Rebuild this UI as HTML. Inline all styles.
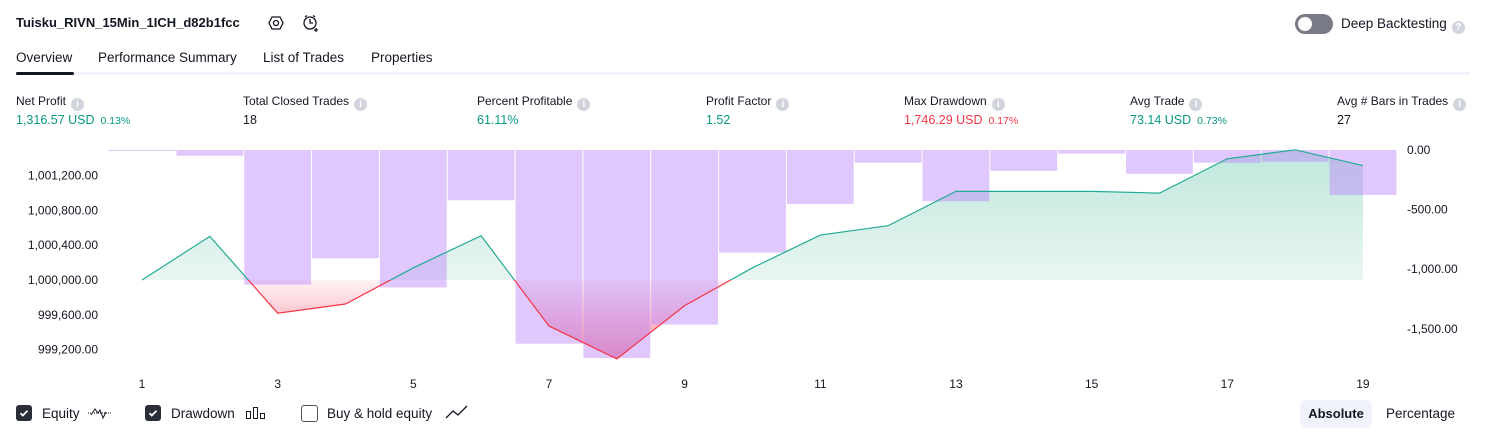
<!DOCTYPE html>
<html><head><meta charset="utf-8">
<style>
body{margin:0;width:1486px;height:438px;background:#fff;font-family:"Liberation Sans",sans-serif;color:#131722;position:relative;overflow:hidden}
.a{position:absolute;white-space:nowrap}
.t{font-size:13.5px}
.lbl{font-size:12px;top:94px}
.val{font-size:12.5px;top:113px}
.g{color:#089981}.r{color:#f23645}
.pct{font-size:10.5px;margin-left:6px}
.info{display:inline-block;width:13px;height:13px;border-radius:50%;background:#d1d4dc;color:#fff;font-size:10px;text-align:center;line-height:13px;margin-left:5px;vertical-align:-2px;font-weight:bold}
.cb{position:absolute;top:405px;width:16px;height:16px;border-radius:3px}
.cb.on{background:#2a2e39}
.cb.off{border:1px solid #50535e;width:15px;height:15px;background:#fff}
</style></head><body>
<div class="a t" style="left:16px;top:15px;font-weight:bold;font-size:13px">Tuisku_RIVN_15Min_1ICH_d82b1fcc</div>
<svg class="a" style="left:268px;top:15px" width="16" height="16"><polygon points="4,2 12,2 15,8 12,14 4,14 1,8" fill="none" stroke="#131722" stroke-width="1.3"/><circle cx="8" cy="8" r="2.5" fill="none" stroke="#131722" stroke-width="1.3"/></svg>
<svg class="a" style="left:302px;top:14px" width="18" height="18"><circle cx="8" cy="9" r="6" fill="none" stroke="#131722" stroke-width="1.3"/><path d="M8 5v4h3M3 3l2-1.5M13 3l-2-1.5M14 14v4M12 16h4" stroke="#131722" stroke-width="1.3" fill="none"/></svg>
<div class="a" style="left:1295px;top:14px;width:38px;height:20px;border-radius:10px;background:#787b86"><div style="position:absolute;left:3px;top:3px;width:14px;height:14px;border-radius:50%;background:#fff"></div></div>
<div class="a t" style="left:1341px;top:16px">Deep Backtesting<span class="info">?</span></div>
<div class="a t" style="left:16px;top:50px">Overview</div>
<div class="a t" style="left:98px;top:50px">Performance Summary</div>
<div class="a t" style="left:263px;top:50px">List of Trades</div>
<div class="a t" style="left:371px;top:50px">Properties</div>
<div class="a" style="left:16px;top:72px;width:1454px;height:3px;background:#f0f3fa"></div>
<div class="a" style="left:16px;top:72px;width:58px;height:3px;border-radius:2px;background:#131722"></div>

<div class="a lbl" style="left:16px">Net Profit<span class="info">i</span></div>
<div class="a val g" style="left:16px">1,316.57 USD<span class="pct">0.13%</span></div>
<div class="a lbl" style="left:243px">Total Closed Trades<span class="info">i</span></div>
<div class="a val" style="left:243px">18</div>
<div class="a lbl" style="left:477px">Percent Profitable<span class="info">i</span></div>
<div class="a val g" style="left:477px">61.11%</div>
<div class="a lbl" style="left:706px">Profit Factor<span class="info">i</span></div>
<div class="a val g" style="left:706px">1.52</div>
<div class="a lbl" style="left:904px">Max Drawdown<span class="info">i</span></div>
<div class="a val r" style="left:904px">1,746.29 USD<span class="pct">0.17%</span></div>
<div class="a lbl" style="left:1130px">Avg Trade<span class="info">i</span></div>
<div class="a val g" style="left:1130px">73.14 USD<span class="pct">0.73%</span></div>
<div class="a lbl" style="left:1337px">Avg # Bars in Trades<span class="info">i</span></div>
<div class="a val" style="left:1337px">27</div>

<svg id="chart" class="a" style="left:0;top:0" width="1486" height="400"></svg>

<div class="cb on" style="left:16px"><svg width="16" height="16"><path d="M4.5 8.2l2.3 2.3 4.7-4.7" stroke="#fff" stroke-width="1.8" fill="none"/></svg></div>
<div class="a t" style="left:42px;top:406px">Equity</div>
<svg class="a" style="left:87px;top:404px" width="26" height="18"><path d="M1 9h24" stroke="#131722" stroke-dasharray="1 1"/><path d="M4 11l4-6 3 4 2-3 3 8 3-6" stroke="#131722" fill="none"/></svg>
<div class="cb on" style="left:145px"><svg width="16" height="16"><path d="M4.5 8.2l2.3 2.3 4.7-4.7" stroke="#fff" stroke-width="1.8" fill="none"/></svg></div>
<div class="a t" style="left:171px;top:406px">Drawdown</div>
<svg class="a" style="left:245px;top:405px" width="22" height="16"><rect x="1.5" y="6.5" width="4" height="7" fill="none" stroke="#131722"/><rect x="8.5" y="2.5" width="4" height="11" fill="none" stroke="#131722"/><rect x="15.5" y="8.5" width="4" height="5" fill="none" stroke="#131722"/></svg>
<div class="cb off" style="left:301px"></div>
<div class="a t" style="left:327px;top:406px">Buy &amp; hold equity</div>
<svg class="a" style="left:445px;top:404px" width="24" height="16"><path d="M1 14l7-7 5 4 9-9" stroke="#131722" stroke-width="1.3" fill="none"/></svg>
<div class="a t" style="left:1300px;top:400px;width:72px;height:28px;line-height:28px;text-align:center;background:#f0f3fa;border-radius:5px;font-weight:bold;font-size:13px">Absolute</div>
<div class="a t" style="left:1386px;top:406px">Percentage</div>

<script>
const tradeNumbers=[1,2,3,4,5,6,7,8,9,10,11,12,13,14,15,16,17,18,19];
const equityValues=[0,502,-382,-276,140,509,-529,-908,-295,140,517,625,1020,1020,1020,1000,1395,1498,1316.57];
const drawdownValues=[-6,-48,-1130,-908,-1153,-422,-1625,-1746,-1465,-860,-453,-107,-430,-175,-31,-200,-107,-99,-377];
const leftTicks=[1001200,1000800,1000400,1000000,999600,999200];
const rightTicks=[0,-500,-1000,-1500];
const xTickLabels=[1,3,5,7,9,11,13,15,17,19];
const initialCapital=1000000;

const NS="http://www.w3.org/2000/svg";
const svg=document.getElementById('chart');
const x=i=>142+(i-1)*67.83;
const yL=v=>280-(v-initialCapital)*0.0869;
const yE=v=>yL(initialCapital+v);
const yR=v=>150-v*59.6/500;
function mk(t,a,p){const e=document.createElementNS(NS,t);for(const k in a)e.setAttribute(k,a[k]);(p||svg).appendChild(e);return e;}

const base=yE(0);
const defs=mk('defs',{});
defs.innerHTML='<linearGradient id="gg" gradientUnits="userSpaceOnUse" x1="0" y1="150" x2="0" y2="'+base+'"><stop offset="0" stop-color="#bfe7dc"/><stop offset="1" stop-color="#e9f6f2"/></linearGradient>'+
'<linearGradient id="rg" gradientUnits="userSpaceOnUse" x1="0" y1="'+base+'" x2="0" y2="360"><stop offset="0" stop-color="#fff3f5"/><stop offset="1" stop-color="#f28aa0"/></linearGradient>'+
'<clipPath id="above"><rect x="0" y="0" width="1486" height="'+base+'"/></clipPath>'+
'<clipPath id="below"><rect x="0" y="'+base+'" width="1486" height="200"/></clipPath>';

let pts=tradeNumbers.map((n,i)=>x(n)+','+yE(equityValues[i])).join(' ');
let area='M'+x(tradeNumbers[0])+','+base+' L'+pts.split(' ').join(' L')+' L'+x(tradeNumbers[tradeNumbers.length-1])+','+base+'Z';
const ga=mk('path',{d:area,fill:'url(#gg)','clip-path':'url(#above)'});


const ra=mk('path',{d:area,fill:'url(#rg)','clip-path':'url(#below)'});



tradeNumbers.forEach((n,i)=>{
  const b=mk('rect',{x:x(n)-33.4,y:150,width:66.8,height:Math.max(1,yR(drawdownValues[i])-150),fill:'rgba(186,130,250,0.45)'});
  
  
});

const gl=mk('polyline',{points:pts,fill:'none',stroke:'#22ab94','stroke-width':1.2,'clip-path':'url(#above)'});


const rl=mk('polyline',{points:pts,fill:'none',stroke:'#f23645','stroke-width':1.2,'clip-path':'url(#below)'});



leftTicks.forEach(v=>{
  const t=mk('text',{x:98,y:yL(v)+4,'text-anchor':'end','font-size':12,fill:'#131722'});
  t.textContent=v.toLocaleString('en-US',{minimumFractionDigits:2});
  
  
});
rightTicks.forEach(v=>{
  const t=mk('text',{x:1407,y:yR(v)+4,'font-size':12,fill:'#131722'});
  t.textContent=v.toLocaleString('en-US',{minimumFractionDigits:2});
  
  
});
xTickLabels.forEach(n=>{
  const t=mk('text',{x:x(n),y:388,'text-anchor':'middle','font-size':12,fill:'#131722'});
  t.textContent=n;
  
  
});
</script>
</body></html>
